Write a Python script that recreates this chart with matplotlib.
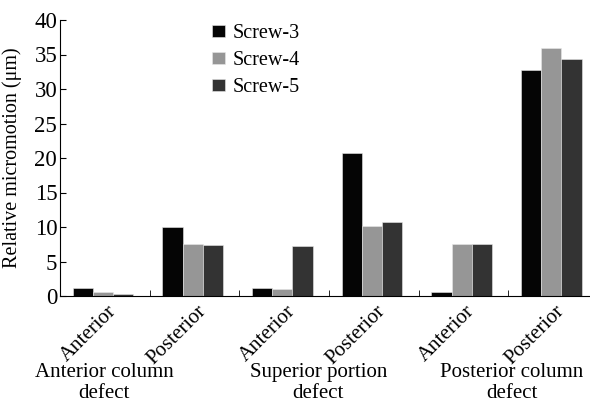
import numpy as np
import matplotlib
matplotlib.use("Agg")
import matplotlib.pyplot as plt
from matplotlib.transforms import blended_transform_factory, ScaledTranslation

plt.rcParams["font.family"] = ["Liberation Serif", "DejaVu Serif"]

positions = ["Anterior", "Posterior", "Anterior", "Posterior", "Anterior", "Posterior"]
defects = ["Anterior column\ndefect", "Superior portion\ndefect", "Posterior column\ndefect"]
screw3 = [1.2, 10.0, 1.2, 20.7, 0.6, 32.7]
screw4 = [0.6, 7.6, 1.0, 10.1, 7.6, 36.0]
screw5 = [0.3, 7.4, 7.2, 10.7, 7.6, 34.4]
names = ["Screw-3", "Screw-4", "Screw-5"]
colors = ["#050505", "#969696", "#333333"]

W, H = 590, 403
fig = plt.figure(figsize=(W / 100, H / 100), dpi=100)
ax = fig.add_axes([60 / W, 107 / H, 538 / W, 276 / H])

x = np.arange(len(positions))
bw = 0.225
for k, (vals, nm, c) in enumerate(zip([screw3, screw4, screw5], names, colors)):
    ax.bar(x + (k - 1) * bw - 0.02, vals, bw, color=c, label=nm,
           edgecolor="#e8e8e8", linewidth=0.4)

ax.set_xlim(-0.5, 5.5)
ax.set_ylim(0, 40)
ax.set_yticks(range(0, 41, 5))
ax.spines["top"].set_visible(False)
ax.spines["right"].set_visible(False)
ax.tick_params(axis="y", direction="in", length=4, labelsize=16.5, pad=2)
ax.set_xticks(x)
ax.set_xticklabels(positions, rotation=45, ha="right", va="top",
                   rotation_mode="anchor", fontsize=15)
ax.tick_params(axis="x", which="major", length=0, pad=4)
off = ScaledTranslation(2 / 100, 0, fig.dpi_scale_trans)
for lab in ax.get_xticklabels():
    lab.set_transform(lab.get_transform() + off)
ax.set_xticks(x[:-1] + 0.5, minor=True)
ax.tick_params(axis="x", which="minor", direction="in", length=4)

ax.set_ylabel("Relative micromotion (μm)", fontsize=14.5)
ax.yaxis.set_label_coords(-38 / 538, 0.5)

# group captions under the rotated tick labels
tr = blended_transform_factory(ax.transData, fig.transFigure)
for gx, txt in zip([-0.01, 2.38, 4.54], defects):
    ax.text(gx, 1 - 383 / H, txt, transform=tr, ha="center", va="center",
            fontsize=15, linespacing=1.15, clip_on=False)

ax.legend(loc="upper left", bbox_to_anchor=(212 / W, 1 - 24 / H),
          bbox_transform=fig.transFigure, frameon=False, fontsize=14.5,
          handlelength=0.65, handleheight=0.55, handletextpad=0.35,
          labelspacing=0.4, borderpad=0, borderaxespad=0)

fig.savefig("out.png", dpi=100)
